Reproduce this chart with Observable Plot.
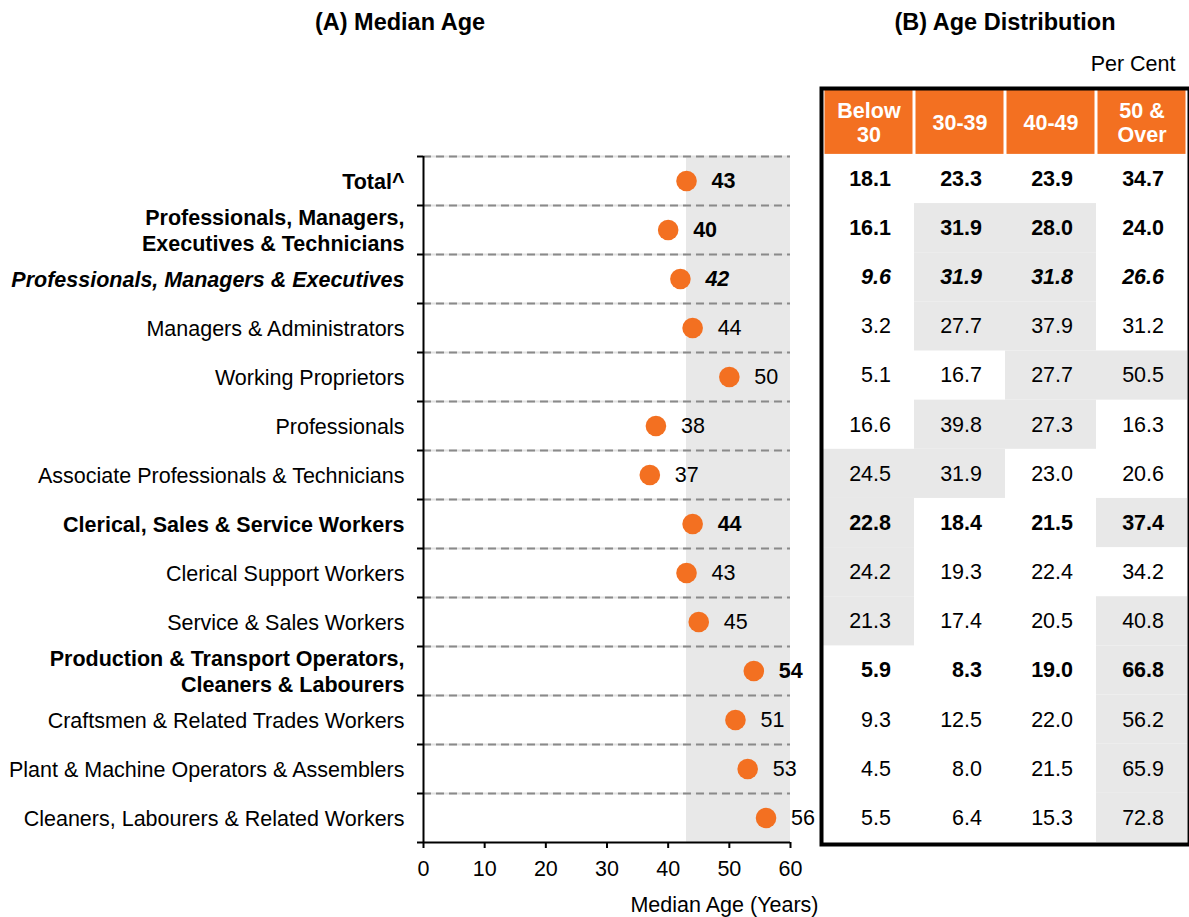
<!DOCTYPE html>
<html>
<head>
<meta charset="utf-8">
<script src="https://cdn.jsdelivr.net/npm/d3@7"></script>
<script src="https://cdn.jsdelivr.net/npm/@observablehq/plot@0.6"></script>
<style>
  body { margin: 0; background: #fff; font-family: "Liberation Sans", Arial, sans-serif; }
  #wrap { position: relative; width: 1189px; height: 917px; overflow: hidden; background: #fff; }
  .title { position: absolute; top: 8px; font-weight: bold; font-size: 23.5px; line-height: 28px; text-align: center; color: #000; }
  #wrap svg { position: absolute; top: 0; }
</style>
</head>
<body>
<div id="wrap">
  <div class="title" style="left:250px;width:300px;">(A) Median Age</div>
  <div class="title" style="left:855px;width:300px;">(B) Age Distribution</div>
</div>
<script>
// ---------- data ----------
const categories = [
  "Total^",
  "Professionals, Managers,\nExecutives & Technicians",
  "Professionals, Managers & Executives",
  "Managers & Administrators",
  "Working Proprietors",
  "Professionals",
  "Associate Professionals & Technicians",
  "Clerical, Sales & Service Workers",
  "Clerical Support Workers",
  "Service & Sales Workers",
  "Production & Transport Operators,\nCleaners & Labourers",
  "Craftsmen & Related Trades Workers",
  "Plant & Machine Operators & Assemblers",
  "Cleaners, Labourers & Related Workers"
];
const rowStyles = ["bold","bold","bolditalic","normal","normal","normal","normal",
                   "bold","normal","normal","bold","normal","normal","normal"];
const medianAge = [43, 40, 42, 44, 50, 38, 37, 44, 43, 45, 54, 51, 53, 56];

const ageGroups = ["Below\n30", "30-39", "40-49", "50 &\nOver"];
const below30  = [18.1, 16.1, 9.6, 3.2, 5.1, 16.6, 24.5, 22.8, 24.2, 21.3, 5.9, 9.3, 4.5, 5.5];
const age30to39 = [23.3, 31.9, 31.9, 27.7, 16.7, 39.8, 31.9, 18.4, 19.3, 17.4, 8.3, 12.5, 8.0, 6.4];
const age40to49 = [23.9, 28.0, 31.8, 37.9, 27.7, 27.3, 23.0, 21.5, 22.4, 20.5, 19.0, 22.0, 21.5, 15.3];
const age50over = [34.7, 24.0, 26.6, 31.2, 50.5, 16.3, 20.6, 37.4, 34.2, 40.8, 66.8, 56.2, 65.9, 72.8];

const xTicks = [0, 10, 20, 30, 40, 50, 60];

// ---------- derived tables ----------
const FONT = '"Liberation Sans", Arial, sans-serif';
const FS = 21.5;
const ORANGE = "#F37021";
const SHADE = "#e8e8e8";
const nRows = categories.length;
const rows = categories.map((label, i) => ({i, label, style: rowStyles[i], median: medianAge[i]}));
const totalMedian = medianAge[0];
const distSeries = [below30, age30to39, age40to49, age50over];
const cells = [];
distSeries.forEach((series, c) => series.forEach((v, i) => cells.push({
  i, group: ageGroups[c], value: v, style: rowStyles[i], shade: i > 0 && v > series[0]
})));

const styleOpts = {
  normal: {fontWeight: "normal", fontStyle: "normal"},
  bold: {fontWeight: "bold", fontStyle: "normal"},
  bolditalic: {fontWeight: "bold", fontStyle: "italic"}
};
const styled = (data, make) => Object.keys(styleOpts).map(s => make(data.filter(d => d.style === s), styleOpts[s]));

// ---------- (A) median age dot plot ----------
const left = Plot.plot({
  width: 815, height: 917,
  marginLeft: 423, marginRight: 25, marginTop: 156, marginBottom: 75,
  style: {fontFamily: FONT, fontSize: FS + "px", background: "transparent", overflow: "visible", color: "#000"},
  x: {domain: [xTicks[0], xTicks[xTicks.length - 1]]},
  y: {domain: [0, nRows], reverse: true},
  marks: [
    Plot.rect([totalMedian], {x1: d => d, x2: xTicks[xTicks.length - 1], y1: 0, y2: nRows, fill: SHADE}),
    Plot.ruleY(d3.range(0, nRows), {stroke: "#e2e2e2", strokeWidth: 2}),
    Plot.ruleY(d3.range(0, nRows), {stroke: "#8a8a8a", strokeWidth: 2, strokeDasharray: "8,5"}),
    Plot.ruleY([nRows], {stroke: "#000", strokeWidth: 2}),
    Plot.ruleX([0], {stroke: "#000", strokeWidth: 2}),
    Plot.axisY({ticks: d3.range(0, nRows + 1), tickFormat: () => "", tickSize: 6, label: null, strokeWidth: 2}),
    Plot.axisX({ticks: xTicks, tickSize: 6, tickPadding: 12, label: null, fontSize: FS, strokeWidth: 2}),
    Plot.dot(rows, {x: "median", y: d => d.i + 0.5, r: 10.3, fill: ORANGE}),
    ...styled(rows, (data, so) => Plot.text(data, {
      x: "median", y: d => d.i + 0.5, text: d => String(d.median), dx: 25,
      textAnchor: "start", fontSize: FS, fill: "#000", ...so
    })),
    ...styled(rows, (data, so) => Plot.text(data, {
      x: 0, y: d => d.i + 0.5, text: "label", dx: -19, textAnchor: "end",
      fontSize: FS, lineHeight: 1.17, fill: "#000", ...so
    })),
    Plot.text(["Median Age (Years)"], {frameAnchor: "bottom-right", dx: 28, dy: 63, textAnchor: "end", lineAnchor: "middle", fontSize: FS, fill: "#000"})
  ]
});
left.style.left = "0px";
document.getElementById("wrap").appendChild(left);

// ---------- (B) age distribution table ----------
const HEADER = 1.3;
const right = Plot.plot({
  width: 374, height: 917,
  marginLeft: 8, marginRight: 2, marginTop: 90, marginBottom: 75,
  style: {fontFamily: FONT, fontSize: FS + "px", background: "transparent", overflow: "visible", color: "#000"},
  x: {domain: ageGroups, padding: 0, axis: null},
  y: {domain: [-HEADER, nRows], reverse: true, axis: null},
  marks: [
    Plot.barY(cells.filter(d => d.shade), {x: "group", y1: d => d.i, y2: d => d.i + 1, fill: SHADE}),
    Plot.barY(ageGroups, {x: d => d, y1: -HEADER, y2: 0, fill: ORANGE, insetLeft: 1.5, insetRight: 1.5}),
    Plot.text(ageGroups, {x: d => d, y: -HEADER / 2, text: d => d, fill: "#fff", fontWeight: "bold", fontSize: FS, lineHeight: 1.12}),
    ...styled(cells, (data, so) => Plot.text(data, {
      x: "group", y: d => d.i + 0.5, text: d => d.value.toFixed(1), dx: 22,
      textAnchor: "end", fontSize: FS, fill: "#000", ...so
    })),
    Plot.frame({stroke: "#000", strokeWidth: 4, inset: -2}),
    Plot.text(["Per Cent"], {frameAnchor: "top-right", dx: -12, dy: -26, textAnchor: "end", lineAnchor: "middle", fontSize: FS, fill: "#000"})
  ]
});
right.style.left = "815px";
document.getElementById("wrap").appendChild(right);
</script>
</body>
</html>
